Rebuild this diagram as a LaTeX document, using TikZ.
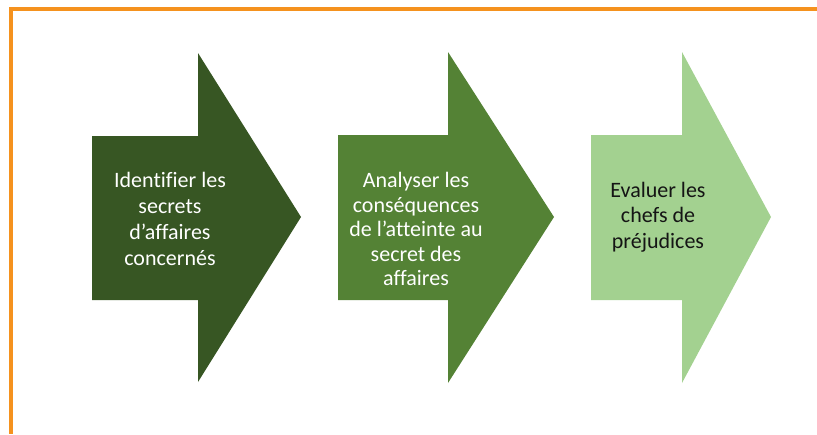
\documentclass[tikz,border=0pt]{standalone}
\usepackage{fontspec}
\setmainfont[Ligatures=NoCommon]{Carlito}
\definecolor{borderorange}{RGB}{245,146,30}
\definecolor{darkgreen}{HTML}{375623}
\definecolor{midgreen}{HTML}{548235}
\definecolor{lightgreen}{HTML}{A3D190}
\definecolor{darktext}{HTML}{151515}
\tikzset{
  arrowtext/.style={align=center, inner sep=0pt, font=\fontsize{22}{#1}\selectfont},
  arrowtext/.default=26,
}
\begin{document}
\begin{tikzpicture}[x=1pt,y=-1pt]
\useasboundingbox (0,0) rectangle (817,434);
% orange frame
\fill[borderorange] (9,7) rectangle (817,10.5);
\fill[borderorange] (9,7) rectangle (12.5,434);
% arrow 1
\fill[darkgreen] (92,136) -- (198,136) -- (198,53) -- (301,217) -- (198,382) -- (198,300) -- (92,300) -- cycle;
% arrow 2
\fill[midgreen] (338,135) -- (448,135) -- (448,52) -- (554,217) -- (448,383) -- (448,300) -- (338,300) -- cycle;
% arrow 3
\fill[lightgreen] (591,135) -- (682,135) -- (682,52) -- (771,217) -- (682,383) -- (682,300) -- (591,300) -- cycle;
% texts
\node[arrowtext=26, text=white] (t1) at (170,219) {Identifier les\\secrets\\d’affaires\\concernés};
\node[arrowtext=24.5, text=white] (t2) at (416,229) {Analyser les\\conséquences\\de l’atteinte au\\secret des\\affaires};
\node[arrowtext=25.5, text=darktext] (t3) at (658,217) {Evaluer les\\chefs de\\préjudices};
\end{tikzpicture}
\end{document}
